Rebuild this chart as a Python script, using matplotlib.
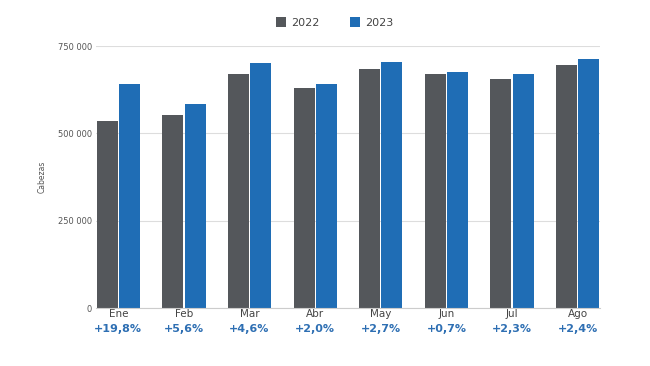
import matplotlib.pyplot as plt
import numpy as np

months = ["Ene", "Feb", "Mar", "Abr", "May", "Jun", "Jul", "Ago"]
heads_2022 = [535000, 552000, 670000, 630000, 684000, 670000, 656000, 696000]
heads_2023 = [641000, 583000, 701000, 642000, 703000, 675000, 671000, 713000]
changes = ["+19,8%", "+5,6%", "+4,6%", "+2,0%", "+2,7%", "+0,7%", "+2,3%", "+2,4%"]
yticks = [0, 250000, 500000, 750000]
ytick_labels = ["0", "250 000", "500 000", "750 000"]

c2022 = "#54575b"
c2023 = "#1f6db5"

fig = plt.figure(figsize=(6.5, 3.66), dpi=100)
ax = fig.add_axes([96 / 650, 1 - 308 / 366, 504 / 650, 262 / 366])

x = np.arange(len(months))
width = 0.32
ax.bar(x - 0.17, heads_2022, width=width, color=c2022, label="2022", zorder=2)
ax.bar(x + 0.17, heads_2023, width=width, color=c2023, label="2023", zorder=2)

ax.set_xlim(-0.34, len(months) - 1 + 0.34)
ax.set_ylim(0, 750000)
ax.set_yticks(yticks)
ax.set_yticklabels(ytick_labels, fontsize=6, color="#555555")
ax.grid(axis="y", color="#dddddd", linewidth=0.8, zorder=0)
for side in ["top", "right", "left"]:
    ax.spines[side].set_visible(False)
ax.spines["bottom"].set_color("#cccccc")
ax.tick_params(axis="y", length=0, pad=3)
ax.tick_params(axis="x", length=0, pad=1)
ax.set_xticks(x)
ax.set_xticklabels(months, fontsize=7.5, color="#444444")
ax.set_ylabel("Cabezas", fontsize=5.5, color="#555555", labelpad=8)

for xi, label in zip(x, changes):
    ax.annotate(label, xy=(xi, 0), xycoords=("data", "axes fraction"),
                xytext=(0, -15), textcoords="offset points", ha="center", va="center",
                fontsize=8, fontweight="bold", color="#2e6fb3")

fig.legend(loc="upper center", bbox_to_anchor=(0.515, 0.98), ncol=2, frameon=False,
           fontsize=8, handlelength=0.9, handleheight=0.9, columnspacing=2.8,
           handletextpad=0.4, labelcolor="#444444")

fig.savefig("out.png", dpi=100, facecolor="white")
